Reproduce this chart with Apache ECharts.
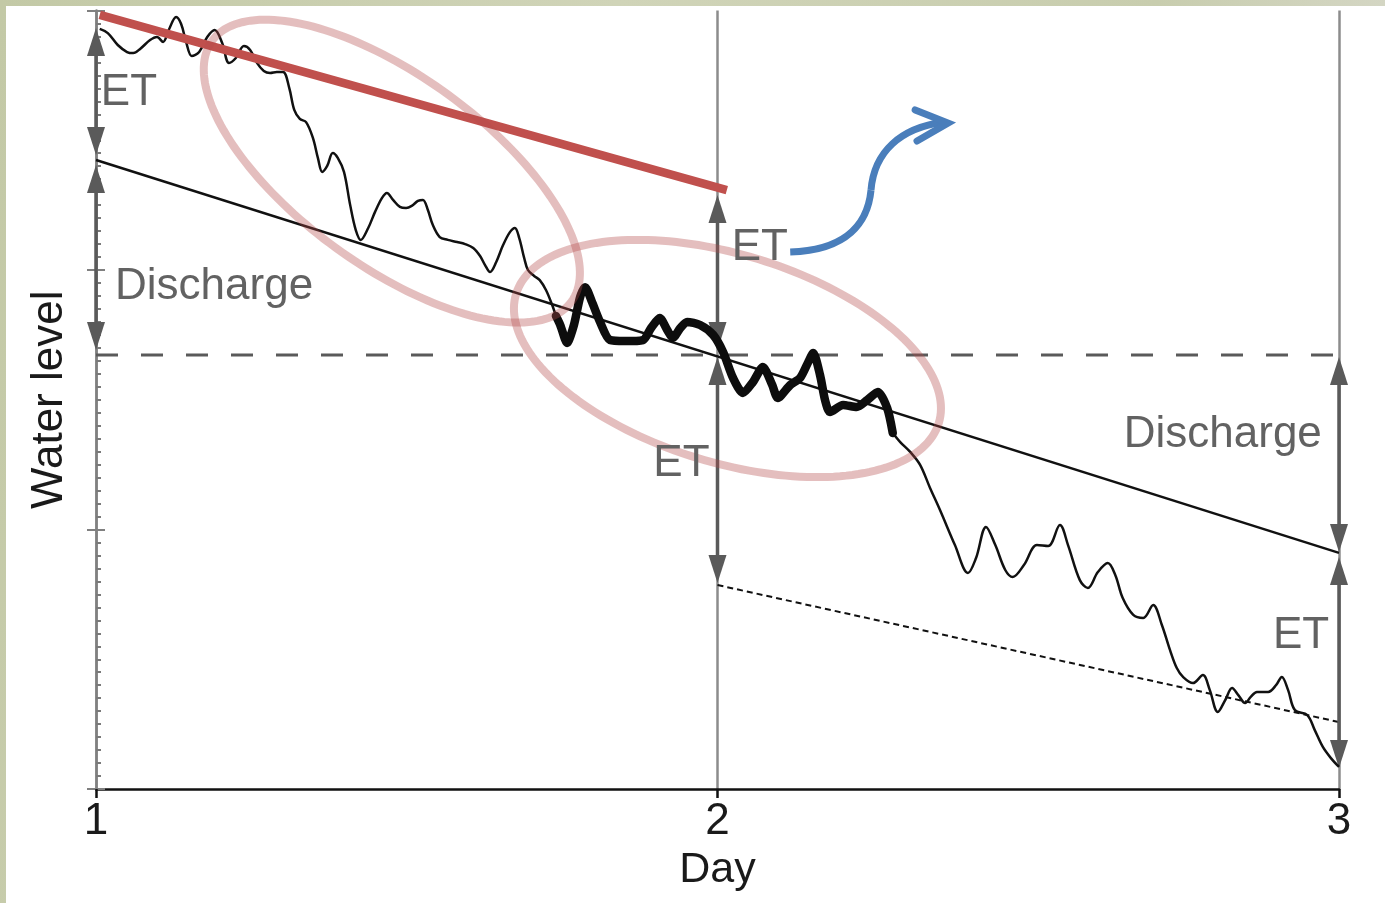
<!DOCTYPE html>
<html>
<head>
<meta charset="utf-8">
<script src="https://cdn.jsdelivr.net/npm/echarts@6/dist/echarts.min.js"></script>
<style>
  html, body { margin: 0; padding: 0; width: 1385px; height: 903px; overflow: hidden; }
  body { background: linear-gradient(100deg, #c3c9a6 0%, #d0d4b8 40%, #c8cdae 75%, #dcdcd2 100%); }
  #paper { position: absolute; left: 6px; top: 6px; right: 0; bottom: 0; background: #ffffff; }
  #chart { position: absolute; left: 0; top: 0; width: 1385px; height: 903px; }
</style>
</head>
<body>
<div id="paper"></div>
<div id="chart"></div>
<script>
// Day axis ticks
const dayTicks = [1, 2, 3];

// Water level record, first stretch (day, level)
const earlyDays = [1.006,1.019,1.035,1.050,1.060,1.071,1.087,1.098,1.108,1.117,1.129,1.137,1.145,1.154,1.166,1.179,1.191,1.203,1.214,1.225,1.238,1.248,1.259,1.270,1.280,1.291,1.301,1.311,1.319,1.328,1.338,1.349,1.357,1.364,1.372,1.381,1.389,1.399,1.409,1.418,1.426,1.438,1.449,1.460,1.468,1.478,1.489,1.499,1.508,1.518,1.526,1.534,1.542,1.553,1.566,1.581,1.594,1.607,1.618,1.626,1.634,1.644,1.655,1.666,1.674,1.681,1.689,1.695,1.705,1.714,1.724,1.734,1.740];
const earlyLevels = [2.929,2.913,2.867,2.840,2.836,2.852,2.886,2.898,2.879,2.925,2.975,2.948,2.879,2.825,2.840,2.898,2.925,2.875,2.798,2.817,2.863,2.848,2.798,2.767,2.759,2.763,2.763,2.701,2.617,2.582,2.570,2.509,2.432,2.378,2.401,2.451,2.432,2.378,2.250,2.154,2.116,2.162,2.224,2.277,2.297,2.270,2.243,2.239,2.247,2.266,2.270,2.231,2.173,2.127,2.116,2.108,2.100,2.085,2.054,2.019,1.992,2.031,2.096,2.146,2.162,2.123,2.046,2.000,1.977,1.961,1.923,1.865,1.823];

// Highlighted stretch around midnight of day 2
const focusDays = [1.740,1.747,1.758,1.769,1.779,1.787,1.798,1.811,1.827,1.851,1.880,1.893,1.907,1.919,1.928,1.940,1.951,1.972,1.993,2.009,2.025,2.041,2.057,2.073,2.088,2.097,2.117,2.133,2.146,2.154,2.165,2.173,2.181,2.202,2.224,2.241,2.258,2.273,2.282];
const focusLevels = [1.823,1.788,1.719,1.788,1.896,1.934,1.877,1.800,1.730,1.726,1.730,1.776,1.815,1.769,1.738,1.776,1.800,1.788,1.750,1.684,1.584,1.526,1.568,1.626,1.557,1.507,1.557,1.584,1.645,1.680,1.595,1.499,1.453,1.480,1.472,1.499,1.530,1.468,1.372];

// Remaining record to day 3
const lateDays = [2.282,2.294,2.310,2.326,2.342,2.358,2.382,2.403,2.416,2.432,2.447,2.463,2.475,2.493,2.514,2.532,2.551,2.564,2.583,2.596,2.612,2.628,2.640,2.652,2.669,2.685,2.701,2.715,2.728,2.739,2.749,2.765,2.781,2.792,2.805,2.817,2.828,2.838,2.849,2.858,2.868,2.886,2.899,2.908,2.918,2.929,2.949,2.961,2.974,2.987,3.000];
const lateLevels = [1.372,1.337,1.299,1.249,1.160,1.075,0.940,0.832,0.890,1.010,0.940,0.844,0.817,0.863,0.940,0.936,1.017,0.940,0.805,0.775,0.836,0.871,0.825,0.736,0.671,0.659,0.709,0.632,0.536,0.466,0.432,0.408,0.439,0.382,0.297,0.343,0.389,0.362,0.331,0.355,0.374,0.374,0.401,0.432,0.382,0.304,0.285,0.227,0.162,0.119,0.085];

// Reference lines
const trendDays = [1, 3];
const trendLevels = [2.424, 0.910];
const upperDays = [1.006, 2.015];
const upperLevels = [2.983, 2.308];
const baseDays = [1, 3];
const baseLevels = [1.672, 1.672];
const lowerDays = [2, 3];
const lowerLevels = [0.786, 0.258];

// Double-headed interval arrows (day, from level, to level)
const spanDays = [1, 1, 2, 2, 3, 3];
const spanFrom = [2.933, 2.405, 2.289, 1.665, 1.665, 0.894];
const spanTo = [2.443, 1.692, 1.692, 0.794, 0.913, 0.081];

// Interval labels
const noteText = ['ET', 'Discharge', 'ET', 'ET', 'Discharge', 'ET'];
const noteDays = [1.053, 1.190, 2.068, 1.942, 2.813, 2.939];
const noteLevels = [2.682, 1.934, 2.087, 1.252, 1.364, 0.590];

// Ring centres
const ringDays = [1.476, 2.016];
const ringLevels = [2.381, 1.659];

// ET outflow arrow: two cubic segments (start, control, control, join, control, control, end)
const flowDays = [2.117, 2.210, 2.242, 2.247, 2.252, 2.294, 2.364];
const flowLevels = [2.069, 2.077, 2.185, 2.308, 2.455, 2.547, 2.570];
// Arrow head (arm, tip, arm)
const headDays = [2.318, 2.371, 2.321];
const headLevels = [2.617, 2.566, 2.497];

const zip = (xs, ys) => xs.map((x, i) => [x, ys[i]]);

const FONT = "'Liberation Sans', Arial, Helvetica, sans-serif";
const GREY = '#5a5a5a';
const BLUE = '#4a7ebb';
const ringShape = [
  { a: 222, b: 95, rot: 36 },
  { a: 221, b: 104, rot: 17 }
];

const chart = echarts.init(document.getElementById('chart'));

const option = {
  animation: false,
  grid: { left: 96, right: 46, top: 10.5, bottom: 114, containLabel: false },
  xAxis: {
    type: 'value',
    min: dayTicks[0],
    max: dayTicks[dayTicks.length - 1],
    interval: 1,
    name: 'Day',
    nameLocation: 'middle',
    nameGap: 54,
    nameTextStyle: { fontSize: 43, color: '#1a1a1a', fontFamily: FONT },
    axisLine: { lineStyle: { color: '#111', width: 2.5 } },
    axisTick: { show: true, length: 9, lineStyle: { color: '#111', width: 2.5 } },
    axisLabel: { fontSize: 44, color: '#1a1a1a', margin: 11, fontFamily: FONT },
    splitLine: { show: true, lineStyle: { color: '#8c8c8c', width: 2.5 } }
  },
  yAxis: [
    {
      type: 'value', min: 0, max: 3, interval: 1, position: 'left',
      name: 'Water level',
      nameLocation: 'middle',
      nameGap: 24,
      nameTextStyle: { fontSize: 44, color: '#1a1a1a', fontFamily: FONT },
      axisLine: { show: true, onZero: false, lineStyle: { color: '#808080', width: 2.5 } },
      axisTick: { show: true, inside: true, length: 9, lineStyle: { color: '#808080', width: 2 } },
      minorTick: { show: true, splitNumber: 20, length: 5, lineStyle: { color: '#7a7a7a', width: 2 } },
      axisLabel: { show: false },
      splitLine: { show: false }
    },
    {
      type: 'value', min: 0, max: 3, interval: 1, position: 'left', offset: 0,
      axisLine: { show: false },
      axisTick: { show: true, inside: false, length: 9, lineStyle: { color: '#808080', width: 2 } },
      axisLabel: { show: false },
      splitLine: { show: false }
    }
  ],
  series: [
    {
      type: 'line', z: 2, data: zip(baseDays, baseLevels), showSymbol: false, silent: true,
      lineStyle: { color: GREY, width: 3, type: [22, 23] }
    },
    {
      type: 'line', z: 2, data: zip(trendDays, trendLevels), showSymbol: false, silent: true,
      lineStyle: { color: '#111', width: 2.5 }
    },
    {
      type: 'line', z: 2, data: zip(lowerDays, lowerLevels), showSymbol: false, silent: true,
      lineStyle: { color: '#111', width: 2, type: [6, 4] }
    },
    {
      type: 'custom', z: 3, silent: true,
      data: spanDays.map((d, i) => [d, spanFrom[i], spanTo[i]]),
      encode: { x: 0, y: [1, 2] },
      renderItem: function (params, api) {
        const a = api.coord([api.value(0), api.value(1)]);
        const b = api.coord([api.value(0), api.value(2)]);
        const L = 28, W = 9;
        const dir = b[1] > a[1] ? 1 : -1;
        return {
          type: 'group',
          children: [
            { type: 'line', shape: { x1: a[0], y1: a[1] + dir * (L - 4), x2: b[0], y2: b[1] - dir * (L - 4) },
              style: { stroke: GREY, lineWidth: 3.5 } },
            { type: 'polygon', shape: { points: [[a[0], a[1]], [a[0] - W, a[1] + dir * L], [a[0] + W, a[1] + dir * L]] },
              style: { fill: GREY } },
            { type: 'polygon', shape: { points: [[b[0], b[1]], [b[0] - W, b[1] - dir * L], [b[0] + W, b[1] - dir * L]] },
              style: { fill: GREY } }
          ]
        };
      }
    },
    {
      type: 'line', z: 4, data: zip(earlyDays, earlyLevels), showSymbol: false, silent: true,
      smooth: 0.35, lineStyle: { color: '#111', width: 2.5 }
    },
    {
      type: 'line', z: 4, data: zip(lateDays, lateLevels), showSymbol: false, silent: true,
      smooth: 0.35, lineStyle: { color: '#111', width: 2.5 }
    },
    {
      type: 'line', z: 5, data: zip(focusDays, focusLevels), showSymbol: false, silent: true,
      smooth: 0.25, lineStyle: { color: '#0d0d0d', width: 8.5, join: 'round', cap: 'round' }
    },
    {
      type: 'line', z: 6, data: zip(upperDays, upperLevels), showSymbol: false, silent: true,
      lineStyle: { color: '#c0504d', width: 8.5 }
    },
    {
      type: 'custom', z: 7, silent: true,
      data: zip(ringDays, ringLevels),
      renderItem: function (params, api) {
        const c = api.coord([api.value(0), api.value(1)]);
        const s = ringShape[params.dataIndex];
        const t = s.rot * Math.PI / 180;
        const pts = [];
        for (let k = 0; k < 180; k++) {
          const u = k / 180 * Math.PI * 2;
          const ex = s.a * Math.cos(u), ey = s.b * Math.sin(u);
          pts.push([c[0] + ex * Math.cos(t) - ey * Math.sin(t), c[1] + ex * Math.sin(t) + ey * Math.cos(t)]);
        }
        return {
          type: 'polygon',
          shape: { points: pts },
          style: { fill: 'none', stroke: 'rgba(180, 75, 75, 0.36)', lineWidth: 8 }
        };
      }
    },
    {
      type: 'custom', z: 7, silent: true,
      data: zip(flowDays, flowLevels),
      renderItem: function (params, api) {
        if (params.dataIndex !== 0) return null;
        const p = flowDays.map((d, i) => api.coord([d, flowLevels[i]]));
        const h = headDays.map((d, i) => api.coord([d, headLevels[i]]));
        const stroke = { stroke: BLUE, lineWidth: 7, fill: 'none', lineCap: 'butt' };
        return {
          type: 'group',
          children: [
            { type: 'bezierCurve', shape: { x1: p[0][0], y1: p[0][1], cpx1: p[1][0], cpy1: p[1][1], cpx2: p[2][0], cpy2: p[2][1], x2: p[3][0], y2: p[3][1] }, style: stroke },
            { type: 'bezierCurve', shape: { x1: p[3][0], y1: p[3][1], cpx1: p[4][0], cpy1: p[4][1], cpx2: p[5][0], cpy2: p[5][1], x2: p[6][0], y2: p[6][1] }, style: stroke },
            { type: 'polyline', shape: { points: h }, style: { stroke: BLUE, lineWidth: 7, fill: 'none', lineCap: 'round', lineJoin: 'miter' } }
          ]
        };
      }
    },
    {
      type: 'custom', z: 8, silent: true,
      data: zip(noteDays, noteLevels),
      renderItem: function (params, api) {
        const p = api.coord([api.value(0), api.value(1)]);
        return {
          type: 'text',
          x: p[0], y: p[1],
          style: {
            text: noteText[params.dataIndex],
            fontSize: 44, fontFamily: FONT, fill: '#626262',
            align: 'center', verticalAlign: 'middle'
          }
        };
      }
    }
  ]
};

chart.setOption(option);
</script>
</body>
</html>
